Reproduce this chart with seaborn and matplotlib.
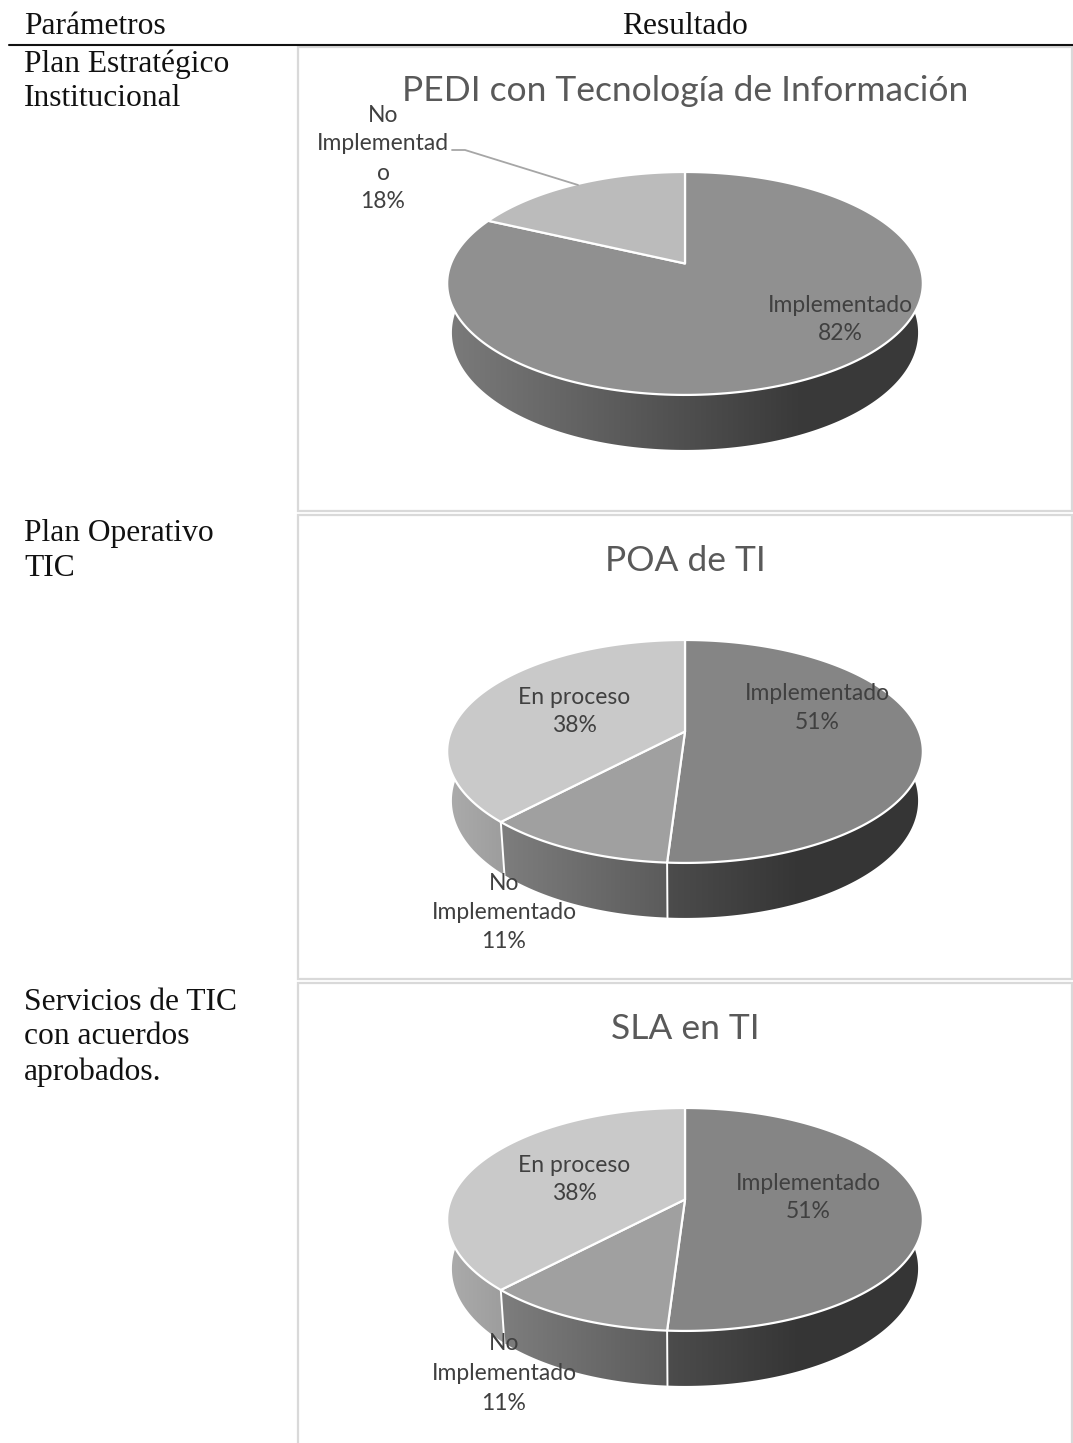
import numpy as np
import matplotlib
matplotlib.use("Agg")
import matplotlib.pyplot as plt
from matplotlib.patches import Polygon, Rectangle
import seaborn as sns

# Table content
header_left = "Parámetros"
header_right = "Resultado"
row_labels = [
    ["Plan Estratégico", "Institucional"],
    ["Plan Operativo", "TIC"],
    ["Servicios de TIC", "con acuerdos", "aprobados."],
]

# Pie data (clockwise from twelve o'clock)
titles = ["PEDI con Tecnología de Información", "POA de TI", "SLA en TI"]
pie_values = [[82, 18], [51, 11, 38], [51, 11, 38]]
pie_names = [
    [["Implementado"], ["No", "Implementad", "o"]],
    [["Implementado"], ["No", "Implementado"], ["En proceso"]],
    [["Implementado"], ["No", "Implementado"], ["En proceso"]],
]
pie_colors = [
    ["#909090", "#bbbbbb"],
    ["#858585", "#a0a0a0", "#c9c9c9"],
    ["#858585", "#a0a0a0", "#c9c9c9"],
]

# Layout, in pixels of the 1073x1443 canvas
W, H = 1073, 1443
panels = [(47, 511), (515, 979), (983, 1460)]
panel_left, panel_right = 298, 1072
apex_x = 685
apex_y = [263.5, 731.5, 1199.5]
title_y = [91, 561, 1029]
# Centre of each wedge's label block and its line spacing
label_pos = [
    [(840, 305, 29), (383, 115, 29)],
    [(817, 694, 28.5), (504, 884, 28.5), (574, 697, 29)],
    [(808, 1183, 29), (504, 1344, 29.5), (574, 1165, 29)],
]

# Perspective of the tilted disc
TILT = 0.179
SCALE_X, SCALE_Y = 234.0, 107.9
BASE_SHRINK = 0.98


def rim(theta_deg, ay):
    """Top rim point of the disc for a clockwise angle from twelve o'clock."""
    t = np.radians(theta_deg)
    u, v = np.sin(t), np.cos(t)
    d = 1 + TILT * v
    return apex_x + SCALE_X * u / d, ay - SCALE_Y * v / d


def base_rim(theta_deg, ay):
    """Matching point on the lower edge of the disc's side wall."""
    x, y = rim(theta_deg, ay)
    v = np.cos(np.radians(theta_deg))
    return apex_x + BASE_SHRINK * (x - apex_x), y + 48 - 7 * v


def wall_shade(x):
    """Brightness factor of the side wall, dropping from left to right."""
    return np.clip(0.85 - 0.45 * (x - 450) / 350, 0.40, 0.85)


sns.set_theme(style="white")
plt.rcParams["font.family"] = ["Lato", "DejaVu Sans"]

fig = plt.figure(figsize=(W / 100, H / 100), dpi=100)
ax = fig.add_axes([0, 0, 1, 1])
ax.set_xlim(0, W)
ax.set_ylim(H, 0)
ax.axis("off")

SERIF = ["Liberation Serif", "DejaVu Serif"]
SERIF_SIZE = 22.7
LABEL_SIZE = 16.5
TITLE_SIZE = 25.5
LABEL_COLOR = "#404040"
TITLE_COLOR = "#595959"

# Table head
ax.text(24, 27, header_left, family=SERIF, size=SERIF_SIZE, color="#111111", ha="left", va="center")
ax.text(685, 27, header_right, family=SERIF, size=SERIF_SIZE, color="#111111", ha="center", va="center")
ax.plot([9, W], [45, 45], color="#111111", lw=1.5, zorder=8)

# Left column
for first_y, lines in zip([64, 533, 1002], row_labels):
    for i, line in enumerate(lines):
        ax.text(24, first_y + 35 * i, line, family=SERIF, size=SERIF_SIZE,
                color="#111111", ha="left", va="center")

# Chart frames
for top, bottom in panels:
    ax.add_patch(Rectangle((panel_left, top), panel_right - panel_left, bottom - top,
                           fc="white", ec="#d9d9d9", lw=1.6, zorder=0))

for k, (values, names, colors) in enumerate(zip(pie_values, pie_names, pie_colors)):
    ay = apex_y[k]
    shares = np.array(values, dtype=float)
    edges = np.concatenate([[0], np.cumsum(shares) / shares.sum() * 360])
    palette = sns.color_palette(colors)

    # Side wall, one shaded strip per wedge on the near half of the disc
    for c, a0, a1 in zip(palette, edges[:-1], edges[1:]):
        lo, hi = max(a0, 70), min(a1, 290)
        if lo >= hi:
            continue
        th = np.linspace(lo, hi, 200)
        outline = np.vstack([np.column_stack(rim(th, ay)),
                             np.column_stack(base_rim(th[::-1], ay))])
        clip = Polygon(outline, closed=True, fc="none", ec="none", transform=ax.transData)
        ax.add_patch(clip)
        xs = np.linspace(440, 930, 490)
        strip = np.clip(wall_shade(xs)[None, :, None] * np.array(c)[None, None, :], 0, 1)
        img = ax.imshow(strip, extent=(440, 930, ay + 240, ay - 140), aspect="auto",
                        interpolation="bilinear", zorder=2)
        img.set_clip_path(clip)

    ax.set_xlim(0, W)
    ax.set_ylim(H, 0)

    # Top face
    for c, a0, a1 in zip(palette, edges[:-1], edges[1:]):
        th = np.linspace(a0, a1, 240)
        xy = np.vstack([[apex_x, ay], np.column_stack(rim(th, ay))])
        ax.add_patch(Polygon(xy, closed=True, fc=c, ec="white", lw=1.6,
                             joinstyle="round", zorder=3))

    # Seams on the side wall
    for a in edges[1:-1]:
        if 70 < a < 290:
            x0, y0 = rim(a, ay)
            x1, y1 = base_rim(a, ay)
            ax.plot([x0, x1], [y0, y1], color="white", lw=1.4, zorder=3)

    ax.text(apex_x, title_y[k], titles[k], size=TITLE_SIZE, color=TITLE_COLOR,
            ha="center", va="center", zorder=6)

    # Labels: category lines followed by the percentage
    for name_lines, value, (lx, ly, step) in zip(names, values, label_pos[k]):
        for i, line in enumerate(name_lines):
            ax.text(lx, ly + step * i, line, size=LABEL_SIZE, color=LABEL_COLOR,
                    ha="center", va="center", zorder=6)
        ax.text(lx, ly + step * len(name_lines), f"{value}%", size=LABEL_SIZE,
                color=LABEL_COLOR, ha="center", va="center", zorder=6)

# Leader line for the small wedge of the first pie
leader_end = rim(edges[0] + 0 + 360 * (0.82 + 0.18 * 0.53), apex_y[0])
ax.plot([452, 465, 578], [150, 150, 185], color="#a6a6a6", lw=1.3, zorder=4)

fig.savefig("out.png", dpi=100, facecolor="white")
